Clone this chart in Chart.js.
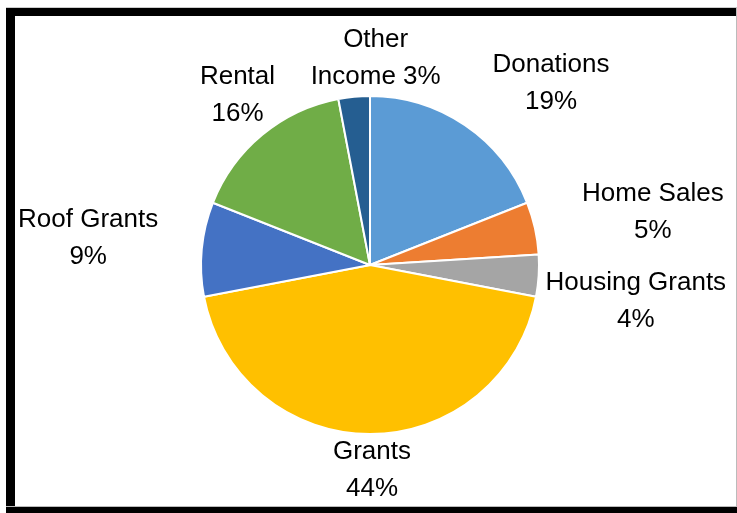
<!DOCTYPE html>
<html>
<head>
<meta charset="utf-8">
<script src="https://cdn.jsdelivr.net/npm/chart.js@4"></script>
<style>
    html, body { margin: 0; padding: 0; background: #fff; }
    body { width: 737px; height: 513px; position: relative; overflow: hidden; }
    #frame {
        position: absolute; left: 6px; top: 7px; width: 730px; height: 499px;
        border-top: 1px solid #ccc;
        border-right: 1px solid #bbb;
    }
    #frame::before {
        content: ''; position: absolute; left: 0; top: 0; right: 0; height: 8px; background: #000;
    }
    #frame::after {
        content: ''; position: absolute; left: 0; top: 0; width: 9px; bottom: -8px; background: #000;
    }
    #bottomBar { position: absolute; left: 6px; top: 506px; width: 731px; height: 1px; background: #bbb; }
    #bottomBar2 { position: absolute; left: 6px; top: 507px; width: 731px; height: 6px; background: #000; }
    #chartWrap { position: absolute; left: 0; top: 0; width: 737px; height: 513px; }
</style>
</head>
<body>
<div id="chartWrap"><canvas id="incomeChart" width="737" height="513"></canvas></div>
<div id="frame"></div>
<div id="bottomBar"></div>
<div id="bottomBar2"></div>
<script>
const categories = ['Donations', 'Home Sales', 'Housing Grants', 'Grants', 'Roof Grants', 'Rental', 'Other Income'];
const shares = [19, 5, 4, 44, 9, 16, 3];
const sliceColors = ['#5B9BD5', '#ED7D31', '#A5A5A5', '#FFC000', '#4472C4', '#70AD47', '#255E91'];

// label text, wrapped the way the original wraps it
const labelLines = categories.map((name, i) => {
    const pct = shares[i] + '%';
    if (name === 'Other Income') return ['Other', 'Income ' + pct];
    return [name, pct];
});

// gap between pie edge and label box, plus a small nudge, per slice
const labelGaps = [50, 50, 9, 9, 43, 17, 14];
const labelNudge = [[25, 30], [0, 3], [-2, 23], [2, -10], [-1, -3], [10, 2], [29, 12]];

const outsideLabels = {
    id: 'outsideLabels',
    afterDatasetsDraw(chart) {
        const ctx = chart.ctx;
        const meta = chart.getDatasetMeta(0);
        const lineH = 37;
        ctx.save();
        ctx.font = '26px "Liberation Sans", Arial, sans-serif';
        ctx.fillStyle = '#000';
        ctx.textAlign = 'center';
        ctx.textBaseline = 'middle';
        meta.data.forEach((arc, i) => {
            const lines = labelLines[i];
            const mid = (arc.startAngle + arc.endAngle) / 2;
            const cos = Math.cos(mid), sin = Math.sin(mid);
            const w = Math.max(...lines.map(l => ctx.measureText(l).width));
            const h = lines.length * lineH;
            const r = arc.outerRadius + labelGaps[i];
            const cx = arc.x + r * cos + cos * w / 2 + labelNudge[i][0];
            const cy = arc.y + r * sin + sin * h / 2 + labelNudge[i][1];
            lines.forEach((l, j) => {
                ctx.fillText(l, cx, cy - h / 2 + lineH * (j + 0.5));
            });
        });
        ctx.restore();
    }
};

new Chart(document.getElementById('incomeChart').getContext('2d'), {
    type: 'pie',
    data: {
        labels: categories,
        datasets: [{
            data: shares,
            backgroundColor: sliceColors,
            borderColor: '#fff',
            borderWidth: 2,
            hoverOffset: 0
        }]
    },
    options: {
        responsive: false,
        devicePixelRatio: 1,
        animation: false,
        layout: {
            padding: { left: 200, right: 197, top: 95, bottom: 78 }
        },
        plugins: {
            legend: { display: false },
            tooltip: { enabled: false }
        }
    },
    plugins: [outsideLabels]
});
</script>
</body>
</html>
